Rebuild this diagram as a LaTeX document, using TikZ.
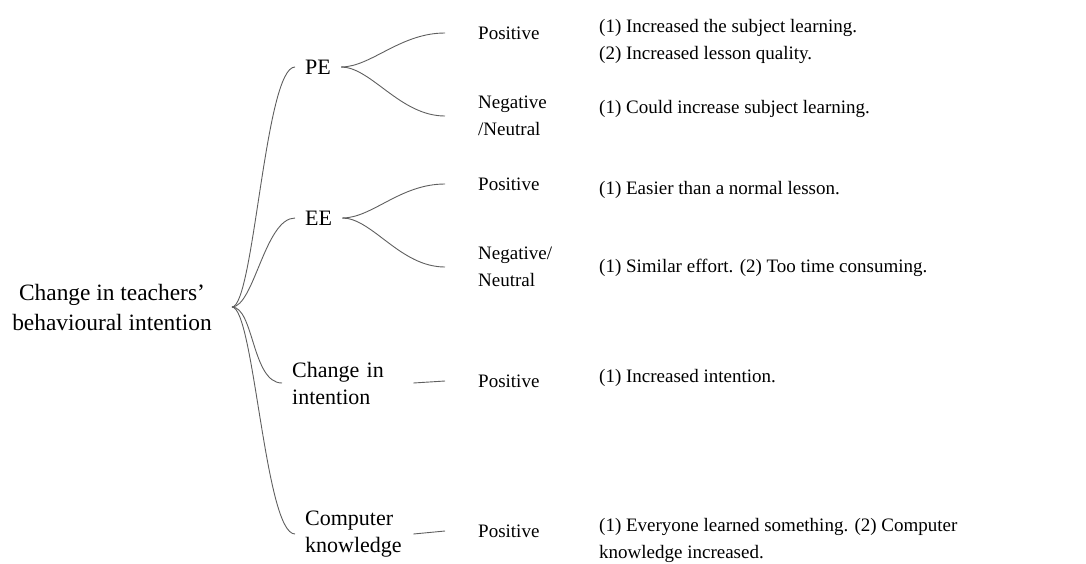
\documentclass[tikz,border=0pt]{standalone}
\usepackage{fontspec}
\setmainfont{Liberation Serif}
\usepackage{tikz}
\usetikzlibrary{positioning}
\definecolor{linegray}{RGB}{95,95,95}

\begin{document}
\begin{tikzpicture}[x=1pt, y=-1pt,
  branch/.style={draw=linegray, line width=0.9pt},
  rootlbl/.style={align=center, inner xsep=20pt, inner ysep=0pt, font=\fontsize{23.4}{30}\selectfont},
  lvone/.style={align=left, inner xsep=10pt, inner ysep=0pt, anchor=west, font=\fontsize{22}{27}\selectfont},
  lvtwo/.style={align=left, inner xsep=33pt, inner ysep=0pt, anchor=west, font=\fontsize{19}{27}\selectfont},
  desc/.style={align=left, inner sep=0pt, anchor=base west, font=\fontsize{19}{27}\selectfont}]
\useasboundingbox (0,0) rectangle (1086,563);
\node[rootlbl] (root) at (112,307) {Change in teachers’\\behavioural intention};
\node[lvone] (pe) at (295,67) {PE};
\node[lvone] (ee) at (295,218) {EE};
\node[lvone, text width=111pt] (chg) at (282,383) {Change in\\intention};
\node[lvone, text width=98pt] (comp) at (295,534) {Computer\\knowledge};
\node[lvtwo] (pepos) at (445,33) {Positive};
\node[lvtwo] (peneg) at (445,116) {Negative\\/Neutral};
\node[lvtwo] (eepos) at (445,184) {Positive};
\node[lvtwo] (eeneg) at (445,267) {Negative/\\Neutral};
\node[lvtwo] (chgpos) at (445,381) {Positive};
\node[lvtwo] (comppos) at (445,531) {Positive};
\node[desc] (pedone) at (599,59) {(1) Increased the subject learning.\\(2) Increased lesson quality.};
\node[desc] (pedtwo) at (599,113) {(1) Could increase subject learning.};
\node[desc] (eedone) at (599,194) {(1) Easier than a normal lesson.};
\node[desc] (eedtwo) at (599,272) {(1) Similar effort. (2) Too time consuming.};
\node[desc] (chgd) at (599,382) {(1) Increased intention.};
\node[desc] (compd) at (599,558) {(1) Everyone learned something. (2) Computer\\knowledge increased.};
\draw[branch] (root.east) .. controls +(22,0) and +(-30,0) .. (pe.west);
\draw[branch] (root.east) .. controls +(22,0) and +(-30,0) .. (ee.west);
\draw[branch] (root.east) .. controls +(22,0) and +(-30,0) .. (chg.west);
\draw[branch] (root.east) .. controls +(22,0) and +(-30,0) .. (comp.west);
\draw[branch] (pe.east) .. controls +(30,0) and +(-45,0) .. (pepos.west);
\draw[branch] (pe.east) .. controls +(30,0) and +(-45,0) .. (peneg.west);
\draw[branch] (ee.east) .. controls +(30,0) and +(-45,0) .. (eepos.west);
\draw[branch] (ee.east) .. controls +(30,0) and +(-45,0) .. (eeneg.west);
\draw[branch] (chg.east) -- (chgpos.west);
\draw[branch] (comp.east) -- (comppos.west);
\end{tikzpicture}
\end{document}
